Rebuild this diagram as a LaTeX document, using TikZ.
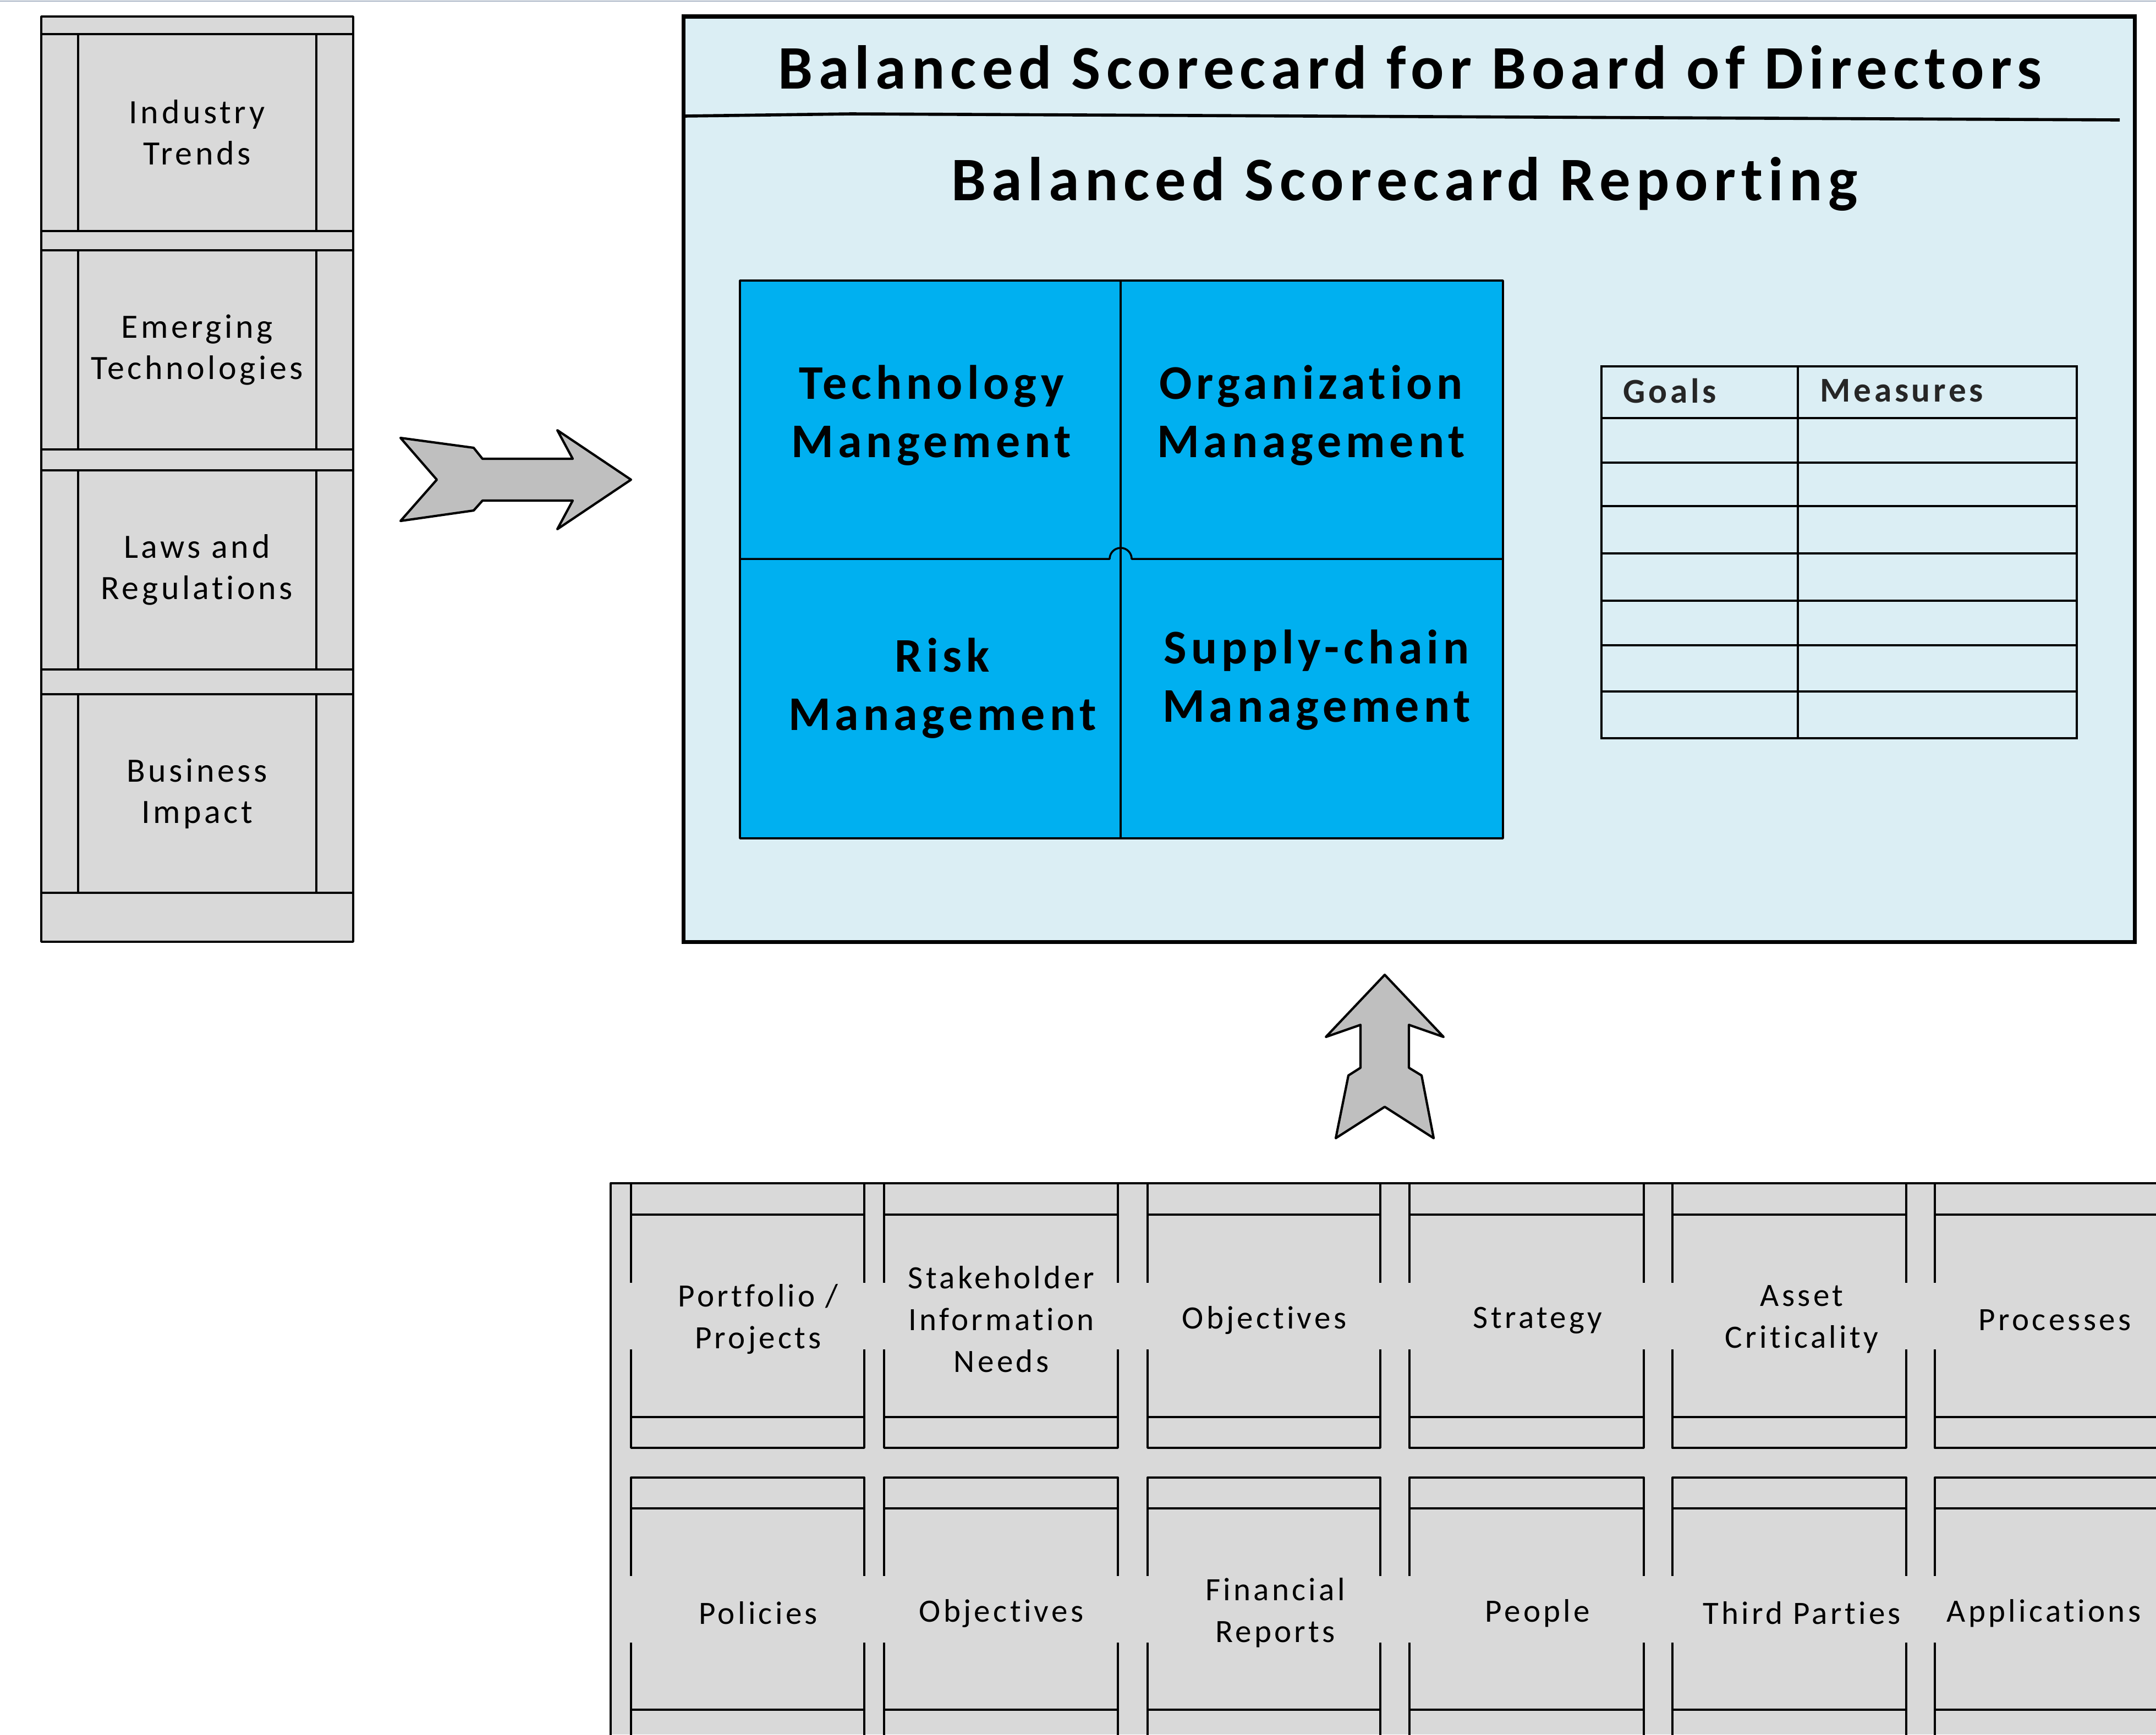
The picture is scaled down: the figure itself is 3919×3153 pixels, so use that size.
\documentclass[tikz,border=0pt]{standalone}
\usepackage{fontspec}
\setmainfont{Carlito}
\newfontfamily\spaced[LetterSpace=9, Ligatures=NoCommon]{Carlito}
\definecolor{boxgray}{RGB}{217,217,217}
\definecolor{arrowgray}{RGB}{191,191,191}
\definecolor{panelblue}{RGB}{219,238,244}
\definecolor{quadblue}{RGB}{0,176,240}
\definecolor{rulegray}{RGB}{168,180,196}

\begin{document}
\begin{tikzpicture}[x=0.01cm, y=-0.01cm,
    frame/.style={line width=1pt, line join=round},
    blockarrow/.style={draw, fill=arrowgray, line width=1.2pt, line join=round},
    sidelabel/.style={font=\spaced\fontsize{17.6}{21.3}\selectfont, align=center},
    gridlabel/.style={font=\spaced\fontsize{16.8}{21.6}\selectfont, align=center},
    quadlabel/.style={font=\spaced\bfseries\fontsize{25}{30}\selectfont, align=center},
    headlabel/.style={font=\spaced\bfseries\fontsize{32}{38}\selectfont},
    tablabel/.style={font=\spaced\bfseries\fontsize{18}{21}\selectfont, anchor=west, text=black!85}]
\useasboundingbox (0,0) rectangle (3919,3153);
\draw[rulegray, line width=0.8pt] (0,2) -- (3919,2);

% left column
\filldraw[frame, fill=boxgray] (75,30) rectangle (642,1712);
\foreach \t/\b/\name/\txt in {62/420/trends/{Industry\\Trends},
    455/817/emerging/{Emerging\\Technologies},
    855/1217/laws/{Laws and\\Regulations},
    1262/1623/impact/{Business\\Impact}} {
  \draw[frame] (75,\t) -- (642,\t) (75,\b) -- (642,\b);
  \draw[frame] (142,\t) rectangle (575,\b);
  \node[sidelabel] (\name) at (358,{(\t+\b)/2}) {\txt};
}

% arrow into the scorecard
\draw[blockarrow] (728,796) -- (861,814) -- (877,834) -- (1041,834) -- (1013,782)
  -- (1147,872) -- (1013,962) -- (1041,910) -- (877,910) -- (861,928) -- (728,947)
  -- (794,872) -- cycle;

% scorecard panel
\filldraw[fill=panelblue, line width=2pt] (1242,30) rectangle (3880,1712);
\draw[line width=1.6pt] (1243,211) -- (1547,207) -- (3853,218);
\node[headlabel] (board) at (2563,122) {Balanced Scorecard for Board of Directors};
\node[headlabel] (report) at (2553,335) {Balanced Scorecard Reporting};

% four quadrants
\filldraw[fill=quadblue, frame] (1345,510) rectangle (2732,1524);
\draw[frame] (2037,510) -- (2037,1524);
\draw[frame] (1345,1016) -- (2017,1016) arc[start angle=180, end angle=0, radius=0.2cm] -- (2732,1016);
\node[quadlabel] (tech) at (1693,755) {Technology\\Mangement};
\node[quadlabel] (org) at (2383,755) {Organization\\Management};
\node[quadlabel] (risk) at (1713,1251) {Risk\\Management};
\node[quadlabel] (supply) at (2393,1236) {Supply-chain\\Management};

% goals table
\draw[line width=1.3pt] (2911,666) rectangle (3775,1342);
\draw[line width=1.3pt] (3268,666) -- (3268,1342);
\foreach \r in {760,841,920,1006,1092,1173,1257}
  \draw[line width=1.3pt] (2911,\r) -- (3775,\r);
\node[tablabel] (goals) at (2938,710) {Goals};
\node[tablabel] (measures) at (3296,710) {Measures};

% arrow up from the grid
\draw[blockarrow] (2517,1772) -- (2624,1885) -- (2561,1863) -- (2561,1941) -- (2584,1955)
  -- (2606,2069) -- (2517,2012) -- (2428,2069) -- (2451,1955) -- (2473,1941)
  -- (2473,1863) -- (2410,1885) -- cycle;

% bottom grid
\fill[boxgray] (1110,2151) rectangle (3919,3153);
\draw[frame] (1110,3160) -- (1110,2151) -- (3925,2151);
\foreach \l/\r in {1147/1571,1607/2032,2086/2509,2562/2988,3040/3465,3517/3943} {
  \draw[frame] (\l,2151) rectangle (\r,2632);
  \draw[frame] (\l,2208) -- (\r,2208) (\l,2576) -- (\r,2576);
  \fill[boxgray] (\l-6,2332) rectangle (\r+6,2453);
  \draw[frame] (\l,3170) -- (\l,2686) -- (\r,2686) -- (\r,3170);
  \draw[frame] (\l,2742) -- (\r,2742) (\l,3108) -- (\r,3108);
  \fill[boxgray] (\l-6,2865) rectangle (\r+6,2986);
}
\foreach \x/\y/\name/\txt in {1378/2398/portfolio/{Portfolio /\\Projects},
    1820/2398/stakeholder/{Stakeholder\\Information\\Needs},
    2298/2400/objectives/{Objectives},
    2795/2400/strategy/{Strategy},
    3275/2398/asset/{Asset\\Criticality},
    3735/2400/processes/{Processes},
    1378/2932/policies/{Policies},
    1820/2933/objectivesb/{Objectives},
    2318/2932/financial/{Financial\\Reports},
    2795/2933/people/{People},
    3275/2932/third/{Third Parties},
    3715/2933/applications/{Applications}}
  \node[gridlabel] (\name) at (\x,\y) {\txt};
\end{tikzpicture}
\end{document}
